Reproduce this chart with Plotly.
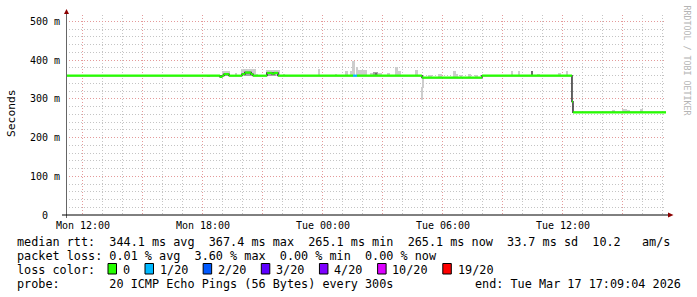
import plotly.graph_objects as go
import pandas as pd

# ---------------- data ----------------
t_start = "2026-03-16 11:09:04"
t_end = "2026-03-17 17:09:04"

# median rtt (ms) as step segments: start time, value, lost pings (of 20)
med_times = ["2026-03-16 11:09:04", "2026-03-16 18:51", "2026-03-16 18:57", "2026-03-16 19:03",
             "2026-03-16 19:18", "2026-03-16 19:57", "2026-03-16 20:06", "2026-03-16 20:24",
             "2026-03-16 20:30", "2026-03-16 21:12", "2026-03-16 21:27", "2026-03-16 21:33",
             "2026-03-16 21:45", "2026-03-17 01:30", "2026-03-17 01:42", "2026-03-17 04:57",
             "2026-03-17 07:57", "2026-03-17 12:27", "2026-03-17 12:30"]
med_vals = [360, 357, 360, 364, 360, 364, 368, 364, 360, 367, 365, 367, 360, 360, 360, 355,
            360, 293, 265]
med_loss = [0, 0, 0, 0, 0, 0, 0, 0, 0, 0, 0, 0, 0, 1, 0, 0, 0, 0, 0]

# smoke (spread of the 20 pings): start, end, low, high (ms), shade
smoke_t0 = ["2026-03-16 18:12", "2026-03-16 18:57", "2026-03-16 19:03", "2026-03-16 19:36",
            "2026-03-16 19:54", "2026-03-16 20:03", "2026-03-16 20:39", "2026-03-16 21:09",
            "2026-03-16 21:15", "2026-03-16 22:00", "2026-03-16 23:45", "2026-03-17 00:36",
            "2026-03-17 01:06", "2026-03-17 01:21", "2026-03-17 01:27", "2026-03-17 01:42",
            "2026-03-17 01:45", "2026-03-17 02:21", "2026-03-17 02:30", "2026-03-17 02:36",
            "2026-03-17 02:45", "2026-03-17 03:12", "2026-03-17 03:36", "2026-03-17 03:45",
            "2026-03-17 04:36", "2026-03-17 04:57", "2026-03-17 04:57", "2026-03-17 05:15",
            "2026-03-17 05:45", "2026-03-17 06:30", "2026-03-17 06:39", "2026-03-17 06:51",
            "2026-03-17 07:15", "2026-03-17 07:36", "2026-03-17 09:27", "2026-03-17 09:45",
            "2026-03-17 10:27", "2026-03-17 10:42", "2026-03-17 11:45", "2026-03-17 12:12",
            "2026-03-17 14:27", "2026-03-17 14:57", "2026-03-17 15:12", "2026-03-17 15:51"]
smoke_t1 = ["2026-03-16 18:21", "2026-03-16 19:21", "2026-03-16 19:15", "2026-03-16 19:42",
            "2026-03-16 20:39", "2026-03-16 20:27", "2026-03-16 20:45", "2026-03-16 21:51",
            "2026-03-16 21:39", "2026-03-16 22:06", "2026-03-16 23:51", "2026-03-17 00:42",
            "2026-03-17 01:15", "2026-03-17 01:27", "2026-03-17 01:36", "2026-03-17 01:45",
            "2026-03-17 02:12", "2026-03-17 02:30", "2026-03-17 02:45", "2026-03-17 02:42",
            "2026-03-17 02:57", "2026-03-17 03:21", "2026-03-17 03:45", "2026-03-17 03:54",
            "2026-03-17 04:45", "2026-03-17 05:03", "2026-03-17 05:00", "2026-03-17 05:27",
            "2026-03-17 05:57", "2026-03-17 06:39", "2026-03-17 06:45", "2026-03-17 06:57",
            "2026-03-17 07:24", "2026-03-17 07:45", "2026-03-17 09:30", "2026-03-17 09:51",
            "2026-03-17 10:30", "2026-03-17 10:51", "2026-03-17 11:54", "2026-03-17 12:15",
            "2026-03-17 14:36", "2026-03-17 15:12", "2026-03-17 15:21", "2026-03-17 16:00"]
smoke_lo = [359, 359, 359, 359, 359, 359, 359, 359, 359, 359, 359, 359, 359, 359, 359, 359,
            359, 359, 359, 359, 359, 359, 359, 359, 359, 328, 297, 354, 354, 354, 354, 354,
            354, 354, 359, 359, 359, 359, 359, 359, 265, 265, 265, 265]
smoke_hi = [363, 372, 368, 366, 376, 372, 365, 374, 370, 365, 378, 365, 371, 373, 398, 383,
            375, 367, 370, 366, 366, 368, 382, 371, 375, 358, 330, 362, 364, 372, 365, 362,
            364, 362, 371, 373, 373, 365, 368, 371, 271, 274, 272, 274]
smoke_shade = ["L", "L", "M", "L", "L", "M", "L", "L", "M", "L", "L", "L", "L", "L", "L", "L",
               "L", "L", "M", "D", "L", "L", "L", "L", "L", "L", "L", "L", "L", "L", "L", "L",
               "L", "L", "L", "L", "D", "L", "L", "L", "L", "L", "L", "L"]

y_tick_vals = [0, 100, 200, 300, 400, 500]
y_tick_text = ["0  ", "100 m", "200 m", "300 m", "400 m", "500 m"]
x_tick_text = {"2026-03-16 12:00": "Mon 12:00", "2026-03-16 18:00": "Mon 18:00",
               "2026-03-17 00:00": "Tue 00:00", "2026-03-17 06:00": "Tue 06:00",
               "2026-03-17 12:00": "Tue 12:00"}

loss_labels = ["0", "1/20", "2/20", "3/20", "4/20", "10/20", "19/20"]
loss_levels = [0, 1, 2, 3, 4, 10, 19]
loss_colors = ["#26ff00", "#00b8ff", "#0059ff", "#5e00ff", "#7e00ff", "#dd00ff", "#ff0000"]

rtt_avg, rtt_max, rtt_min, rtt_now, rtt_sd, rtt_ams = 344.1, 367.4, 265.1, 265.1, 33.7, 10.2
loss_avg, loss_max, loss_min, loss_now = 0.01, 3.60, 0.00, 0.00
probe_text = "20 ICMP Echo Pings (56 Bytes) every 300s"
end_text = "end: Tue Mar 17 17:09:04 2026"

# ---------------- layout constants ----------------
W, H = 697, 297
L, T, PW, PH = 66, 15, 600, 200
R, B = W - L - PW, H - T - PH
YMAX = 500 * PH / 193.5
MONO = "DejaVu Sans Mono"
NB = "\u00a0"


def px(xp):
    return (xp - L) / PW


def py(yp):
    return (T + PH - yp) / PH


def dt(v):
    return pd.to_datetime(v, format="mixed")


fig = go.Figure()

# smoke
shade_col = {"L": "#cdcdcd", "M": "#a4a4a4", "D": "#6c6c6c"}
t0 = dt(smoke_t0)
t1 = dt(smoke_t1)
for key, col in shade_col.items():
    idx = [i for i, s in enumerate(smoke_shade) if s == key]
    if not idx:
        continue
    fig.add_trace(go.Bar(
        x=[t0[i] + (t1[i] - t0[i]) / 2 for i in idx],
        y=[smoke_hi[i] - smoke_lo[i] for i in idx],
        base=[smoke_lo[i] for i in idx],
        width=[(t1[i] - t0[i]).total_seconds() * 1000 for i in idx],
        marker=dict(color=col, line=dict(width=0)),
        hoverinfo="skip"))

# median: thin dark step line
seg_t = list(dt(med_times)) + [dt(t_end)]
fig.add_trace(go.Scatter(x=seg_t, y=med_vals + [med_vals[-1]], mode="lines",
                         line=dict(color="#101010", width=1.3, shape="hv"), hoverinfo="skip"))

# loss-coloured median (horizontal parts)
for lvl, col in zip(loss_levels, loss_colors):
    xs, ys = [], []
    for i, (v, ls) in enumerate(zip(med_vals, med_loss)):
        if ls == lvl:
            xs += [seg_t[i], seg_t[i + 1], None]
            ys += [v, v, None]
    if xs:
        fig.add_trace(go.Scatter(x=xs, y=ys, mode="lines",
                                 line=dict(color=col, width=2.2), hoverinfo="skip"))

major = pd.date_range("2026-03-16 12:00", "2026-03-17 15:00", freq="3h")
minor = pd.date_range("2026-03-16 12:00", "2026-03-17 17:00", freq="1h")
major_text = [x_tick_text.get(d.strftime("%Y-%m-%d %H:%M"), "") for d in major]

fig.update_layout(
    width=W, height=H, margin=dict(l=L, r=R, t=T, b=B, pad=0),
    paper_bgcolor="white", plot_bgcolor="white", showlegend=False,
    barmode="overlay", bargap=0,
    xaxis=dict(type="date", range=[t_start, t_end], tickmode="array",
               tickvals=list(major), ticktext=major_text,
               showgrid=True, gridcolor="#e49a9a", griddash="1px,2px", gridwidth=1,
               zeroline=False, showline=False, ticks="", ticklabelstandoff=3,
               tickfont=dict(family=MONO, size=10, color="black"),
               minor=dict(tickmode="array", tickvals=list(minor), showgrid=True,
                          gridcolor="#c4c4c4", griddash="1px,2px", gridwidth=1, ticks=""),
               fixedrange=True),
    yaxis=dict(range=[0, YMAX], tickmode="array", tickvals=y_tick_vals,
               ticktext=[t.replace(" ", NB) for t in y_tick_text],
               showgrid=True, gridcolor="#e49a9a", griddash="1px,2px", gridwidth=1,
               zeroline=False, showline=False, ticks="", ticklabelstandoff=5,
               tickfont=dict(family=MONO, size=10, color="black"),
               minor=dict(dtick=20, tick0=0, showgrid=True, gridcolor="#c4c4c4",
                          griddash="1px,2px", gridwidth=1, ticks=""),
               fixedrange=True),
)

shapes = []
# axes lines + arrows
shapes.append(dict(type="line", xref="paper", yref="paper", x0=px(66.5), x1=px(66.5),
                   y0=py(218), y1=py(12), line=dict(color="#666666", width=1)))
shapes.append(dict(type="line", xref="paper", yref="paper", x0=px(62), x1=px(669),
                   y0=py(215), y1=py(215), line=dict(color="#000000", width=1)))
shapes.append(dict(type="path", xref="paper", yref="paper",
                   path=f"M {px(64)} {py(14)} L {px(66.5)} {py(9)} L {px(69)} {py(14)} Z",
                   fillcolor="#8b0000", line=dict(width=0)))
shapes.append(dict(type="path", xref="paper", yref="paper",
                   path=f"M {px(668)} {py(212.5)} L {px(673.5)} {py(215)} L {px(668)} {py(217.5)} Z",
                   fillcolor="#8b0000", line=dict(width=0)))

ann = []
FS = 11.8


def txt(s, x, y, anchor="left", size=FS, color="black"):
    ann.append(dict(text=s.replace(" ", NB), x=px(x), y=py(y), xref="paper", yref="paper",
                    xanchor=anchor, yanchor="middle", showarrow=False, borderpad=0,
                    font=dict(family=MONO, size=size, color=color)))


row1 = (f"median rtt:  {rtt_avg:.1f} ms avg  {rtt_max:.1f} ms max  {rtt_min:.1f} ms min  "
        f"{rtt_now:.1f} ms now  {rtt_sd:.1f} ms sd  {rtt_ams:.1f}   am/s")
row2 = (f"packet loss: {loss_avg:.2f} % avg  {loss_max:.2f} % max  {loss_min:.2f} % min  "
        f"{loss_now:.2f} % now")
txt(row1, 15.5, 241.5)
txt(row2, 15.5, 255.5)
txt("loss color:", 15.5, 269.5)
txt("probe:       " + probe_text, 15.5, 283.5)
txt(end_text, 681.5, 283.5, anchor="right")

# loss colour legend boxes
pos = 108.0
CW = 7.05
for lab, col in zip(loss_labels, loss_colors):
    shapes.append(dict(type="rect", xref="paper", yref="paper", x0=px(pos), x1=px(pos + 8.5),
                       y0=py(263.5), y1=py(274), fillcolor=col,
                       line=dict(color="black", width=1)))
    txt(lab, pos + 13.8, 269.5)
    pos += 29.95 + len(lab) * CW

# axis title and credit
ann.append(dict(text="Seconds", x=px(11), y=py(113), xref="paper", yref="paper",
                textangle=-90, showarrow=False, xanchor="center", yanchor="middle",
                font=dict(family=MONO, size=11.3, color="black")))
ann.append(dict(text="RRDTOOL / TOBI OETIKER".replace(" ", NB), x=px(686.5), y=py(60),
                xref="paper", yref="paper", textangle=90, showarrow=False,
                xanchor="center", yanchor="middle",
                font=dict(family=MONO, size=8.3, color="#b4b4b4")))

fig.update_layout(shapes=shapes, annotations=ann)
fig.write_html("out.html")
